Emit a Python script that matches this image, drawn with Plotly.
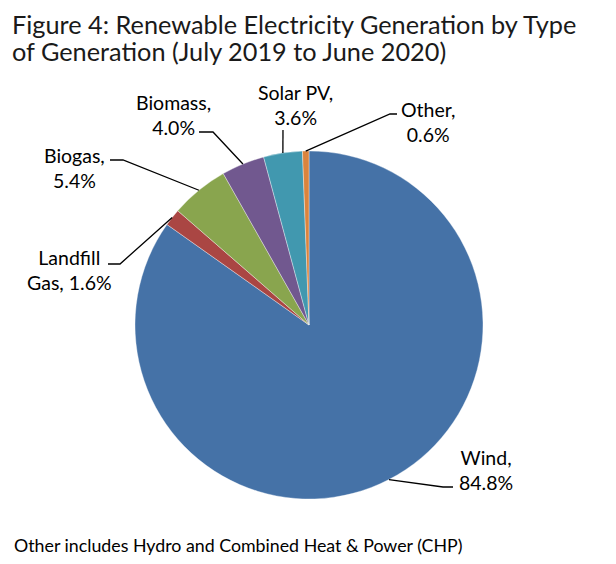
import math
import plotly.graph_objects as go

# Data
categories = ["Wind", "Landfill Gas", "Biogas", "Biomass", "Solar PV", "Other"]
values = [84.8, 1.6, 5.4, 4.0, 3.6, 0.6]
colors = ["#4572A7", "#AA4643", "#89A54E", "#71588F", "#4198AF", "#DB843D"]
label_texts = ["Wind,<br>84.8%", "Landfill<br>Gas, 1.6%", "Biogas,<br>5.4%",
               "Biomass,<br>4.0%", "Solar PV,<br>3.6%", "Other,<br>0.6%"]
title_lines = ["Figure 4: Renewable Electricity Generation by Type",
               "of Generation (July 2019 to June 2020)"]
footnote = "Other includes Hydro and Combined Heat & Power (CHP)"

# page body has an 8px margin; work in window pixels and convert
OFF = 8
W, H = 600, 548
CX, CY, R = 309, 325, 174  # pie centre / radius in window pixels

# label layout: text centre (px), elbow point (px), end point (px)
label_layout = {
    "Wind":         dict(tx=486, ty=470, elbow=(443, 487), end=(453, 487)),
    "Landfill Gas": dict(tx=69,  ty=270, elbow=(120, 264), end=(108, 264)),
    "Biogas":       dict(tx=74,  ty=168, elbow=(123, 160), end=(110, 160)),
    "Biomass":      dict(tx=173, ty=115, elbow=(213, 132), end=(199, 132)),
    "Solar PV":     dict(tx=295, ty=105, elbow=(283, 130), end=(283, 130)),
    "Other":        dict(tx=428, ty=122, elbow=(390, 114), end=(397, 114)),
}

FONT = "Lato, Open Sans, sans-serif"

def px(x):
    return (x - OFF) / W

def py(y):
    return 1 - (y - OFF) / H

fig = go.Figure(go.Pie(
    labels=categories,
    values=values,
    sort=False,
    direction="clockwise",
    rotation=0,
    marker=dict(colors=colors, line=dict(color="rgba(255,255,255,0.6)", width=0.6)),
    textinfo="none",
    hoverinfo="label+percent",
    showlegend=False,
    domain=dict(x=[px(CX - R), px(CX + R)], y=[py(CY + R), py(CY - R)]),
))

total = sum(values)
cum = 0.0
shapes = []
annotations = []
for cat, v, txt in zip(categories, values, label_texts):
    mid = (cum + v / 2) / total * 2 * math.pi
    cum += v
    ex = CX + R * math.sin(mid)
    ey = CY - R * math.cos(mid)
    lay = label_layout[cat]
    (bx, by), (nx, ny) = lay["elbow"], lay["end"]
    path = f"M {px(ex)} {py(ey)} L {px(bx)} {py(by)} L {px(nx)} {py(ny)}"
    shapes.append(dict(type="path", xref="paper", yref="paper", path=path,
                       line=dict(color="black", width=1.3)))
    annotations.append(dict(x=px(lay["tx"]), y=py(lay["ty"]), xref="paper", yref="paper",
                            text=txt, showarrow=False, align="center",
                            xanchor="center", yanchor="middle",
                            font=dict(family=FONT, size=19.5, color="black")))

for line, yt in zip(title_lines, [8, 35]):
    annotations.append(dict(x=px(11), y=py(yt), xref="paper", yref="paper",
                            xanchor="left", yanchor="top", text=line,
                            showarrow=False, align="left", borderpad=0,
                            font=dict(family=FONT, size=25.3, color="#1a1a1a")))
annotations.append(dict(x=px(12), y=py(545), xref="paper", yref="paper", xanchor="left", yanchor="middle",
                        text=footnote, showarrow=False, align="left",
                        font=dict(family=FONT, size=17.8, color="black")))

fig.update_layout(
    width=W, height=H,
    margin=dict(l=0, r=0, t=0, b=0),
    paper_bgcolor="white", plot_bgcolor="white",
    shapes=shapes, annotations=annotations,
)

fig.write_html("out.html")
